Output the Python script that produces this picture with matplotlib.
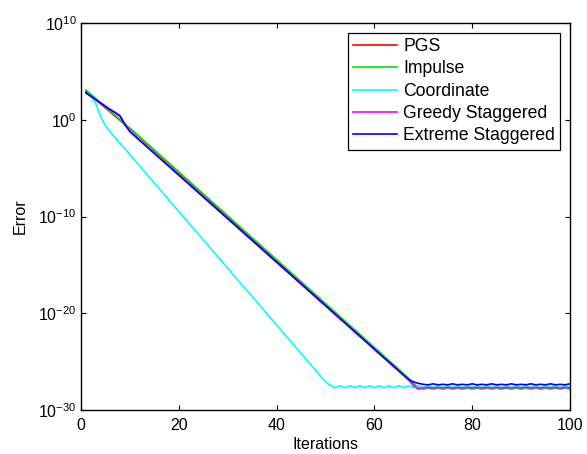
import numpy as np
import matplotlib
matplotlib.use("Agg")
import matplotlib.pyplot as plt

plt.rcParams['font.family'] = ['Liberation Sans', 'DejaVu Sans']
plt.rcParams['mathtext.fontset'] = 'custom'
plt.rcParams['mathtext.rm'] = 'Liberation Sans'

# values (log10 of error)
plateau_x = list(range(70, 101))

pgs_x = [1, 11, 67, 68, 69] + plateau_x
pgs_log = [2.95, -1.35, -26.8, -27.4, -27.75] + [-27.7, -27.72] * 15 + [-27.7]

impulse_x = [1, 11, 67, 68, 69] + plateau_x
impulse_log = [3.1, -1.3, -26.7, -27.25, -27.7] + [-27.85, -27.75] * 15 + [-27.85]

coord_x = [1, 2, 3, 4, 5, 6, 7, 8, 9, 10, 50, 51] + list(range(52, 101))
coord_log = ([2.8, 2.45, 1.7, 0.35, -0.6, -1.25, -1.85, -2.45, -3.0, -3.6, -27.08, -27.45]
             + [-27.7, -27.5] * 24 + [-27.7])

greedy_x = [1, 7, 8, 9, 10, 67, 68, 69] + plateau_x
greedy_log = ([2.78, 0.73, 0.38, -0.52, -1.22, -26.9, -27.5, -27.85]
              + [-27.72, -27.68] * 15 + [-27.7])

extreme_x = [1, 2, 3, 4, 5, 6, 7, 8, 9, 10, 67, 68, 69] + plateau_x
extreme_log = ([2.8, 2.45, 2.1, 1.75, 1.4, 1.05, 0.75, 0.4, -0.5, -1.2, -26.85, -27.1, -27.25]
               + [-27.35, -27.4, -27.3, -27.4] * 7 + [-27.35, -27.4, -27.3])

series = [
    ("PGS", pgs_x, pgs_log, (1, 0, 0)),
    ("Impulse", impulse_x, impulse_log, (0, 0.9, 0)),
    ("Coordinate", coord_x, coord_log, (0, 1, 1)),
    ("Greedy Staggered", greedy_x, greedy_log, (1, 0, 1)),
    ("Extreme Staggered", extreme_x, extreme_log, (0, 0, 1)),
]

fig = plt.figure(figsize=(5.87, 4.54), dpi=100)
ax = fig.add_axes([0.138, 0.097, 0.833, 0.852])

for name, xs, logs, col in series:
    ax.semilogy(xs, 10.0 ** np.array(logs), color=col, lw=1.2, label=name)

ax.set_xlim(0, 100)
ax.set_ylim(1e-30, 1e10)
ax.set_xticks([0, 20, 40, 60, 80, 100])
ax.set_yticks([1e-30, 1e-20, 1e-10, 1e0, 1e10])
ax.minorticks_off()
ax.tick_params(direction='in', top=True, right=True, length=3.5, width=0.8,
               labelsize=11.5)
ax.tick_params(axis='x', pad=6)
ax.tick_params(axis='y', pad=3)
for s in ax.spines.values():
    s.set_linewidth(1.0)

ax.set_xlabel("Iterations", fontsize=11.5, labelpad=3)
ax.set_ylabel("Error", fontsize=11.5, labelpad=8)

leg = ax.legend(loc='upper right', fontsize=12.7, fancybox=False, framealpha=1,
                edgecolor='black', handlelength=2.5, labelspacing=0.3,
                borderaxespad=0.55, handletextpad=0.35, borderpad=0.3)
leg.get_frame().set_linewidth(0.9)

fig.savefig("out.png", dpi=100)
